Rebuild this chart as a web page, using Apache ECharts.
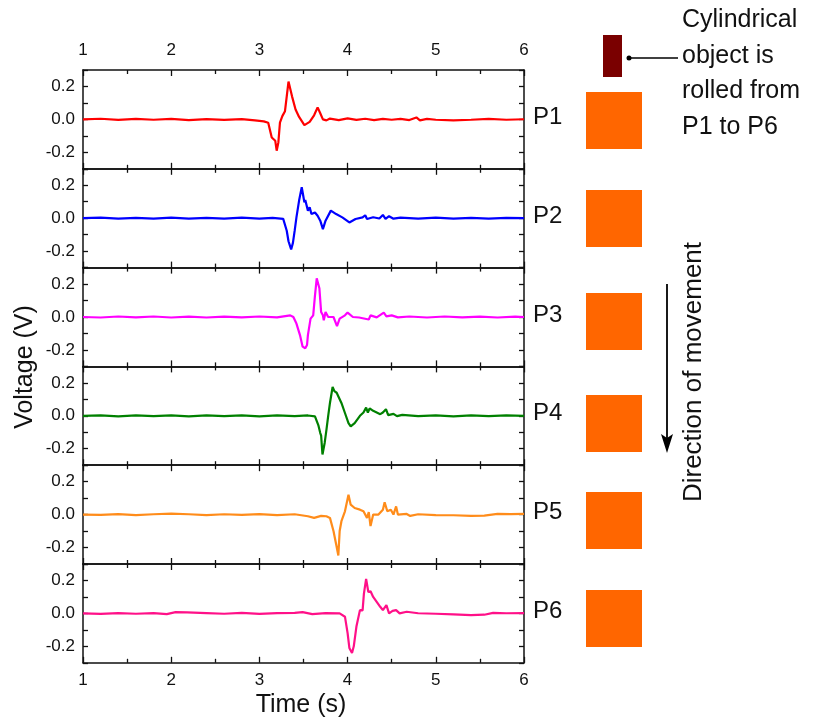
<!DOCTYPE html>
<html>
<head>
<meta charset="utf-8">
<style>
  html, body { margin: 0; padding: 0; background: #fff; }
  #chart { width: 816px; height: 723px; }
</style>
<script src="https://cdn.jsdelivr.net/npm/echarts@6/dist/echarts.min.js"></script>
</head>
<body>
<div id="chart"></div>
<script>
// ── Sensor pad voltages, object rolled from P1 to P6 ──

const padNames = ['P1', 'P2', 'P3', 'P4', 'P5', 'P6'];
const padColors = ['#ff0000', '#0000ff', '#ff00ff', '#008000', '#ff8c1a', '#ff1088'];
const timeTicks = [1, 2, 3, 4, 5, 6];

// [time (s), voltage (V)]
const p1 = [[1, 0], [1.2, 0.004], [1.4, -0.003], [1.6, 0.003], [1.8, -0.002], [2.0, 0.003], [2.2, -0.004], [2.4, 0.002],
  [2.6, -0.003], [2.8, 0.002], [2.95, -0.006], [3.05, -0.012], [3.1, -0.02], [3.14, -0.11], [3.16, -0.12], [3.18, -0.13],
  [3.196, -0.19], [3.215, -0.14], [3.233, -0.02], [3.245, -0.03], [3.26, 0.02], [3.29, 0.05], [3.33, 0.23], [3.37, 0.14],
  [3.41, 0.06], [3.45, 0.015], [3.51, -0.035], [3.57, -0.015], [3.62, 0.025], [3.66, 0.073], [3.69, 0.037], [3.72, 0.0],
  [3.76, -0.006], [3.8, 0.005], [3.9, -0.004], [4.0, 0.006], [4.1, -0.003], [4.2, 0.004], [4.3, -0.004], [4.4, 0.003],
  [4.5, -0.002], [4.6, 0.003], [4.7, -0.004], [4.78, 0.012], [4.82, -0.006], [4.9, 0.003], [5.0, -0.002], [5.2, -0.006],
  [5.4, -0.002], [5.6, 0.003], [5.8, -0.002], [6, 0.001]];
const p2 = [[1, 0], [1.2, 0.003], [1.4, -0.003], [1.6, 0.002], [1.8, -0.002], [2.0, 0.003], [2.2, -0.003], [2.4, 0.002],
  [2.6, -0.002], [2.8, 0.003], [3.0, -0.003], [3.15, 0.002], [3.27, -0.004], [3.31, -0.076], [3.33, -0.14], [3.347, -0.168],
  [3.36, -0.19], [3.38, -0.15], [3.40, -0.076], [3.42, 0.005], [3.45, 0.107], [3.48, 0.188], [3.50, 0.127], [3.51, 0.096],
  [3.52, 0.11], [3.55, 0.046], [3.57, 0.066], [3.59, 0.025], [3.63, 0.035], [3.66, 0.015], [3.69, -0.015], [3.72, -0.066],
  [3.75, -0.015], [3.81, 0.046], [3.87, 0.025], [3.94, 0.005], [4.02, -0.026], [4.09, -0.005], [4.17, 0.005], [4.20, 0.018],
  [4.22, -0.005], [4.29, 0.006], [4.36, -0.002], [4.40, 0.02], [4.43, -0.004], [4.47, 0.012], [4.52, -0.003], [4.6, 0.004],
  [4.8, -0.003], [5.0, 0.003], [5.2, -0.003], [5.4, 0.002], [5.6, -0.003], [5.8, 0.002], [6, 0]];
const p3 = [[1, 0], [1.2, -0.003], [1.4, 0.003], [1.6, -0.002], [1.8, 0.003], [2.0, -0.003], [2.2, 0.002], [2.4, -0.003],
  [2.6, 0.002], [2.8, -0.002], [3.0, 0.003], [3.2, -0.002], [3.35, 0.01], [3.385, 0.0], [3.42, -0.04], [3.46, -0.11],
  [3.49, -0.18], [3.52, -0.19], [3.54, -0.17], [3.55, -0.11], [3.58, -0.01], [3.61, 0.01], [3.63, 0.13], [3.65, 0.235],
  [3.68, 0.175], [3.70, 0.03], [3.72, 0.01], [3.73, -0.02], [3.75, 0.03], [3.78, 0.0], [3.84, 0.0], [3.88, -0.055],
  [3.91, -0.01], [3.97, 0.01], [4.0, 0.027], [4.06, 0.0], [4.13, -0.003], [4.24, -0.015], [4.26, 0.01], [4.33, -0.002],
  [4.41, 0.027], [4.44, 0.004], [4.5, 0.01], [4.57, -0.002], [4.7, 0.003], [4.9, -0.003], [5.1, 0.003], [5.3, -0.002],
  [5.5, 0.002], [5.7, -0.003], [5.9, 0.002], [6, 0]];
const p4 = [[1, 0], [1.2, 0.003], [1.4, -0.003], [1.6, 0.002], [1.8, -0.002], [2.0, 0.003], [2.2, -0.003], [2.4, 0.003],
  [2.6, -0.002], [2.8, 0.002], [3.0, -0.003], [3.2, 0.003], [3.4, -0.002], [3.55, 0.002], [3.63, -0.003], [3.67, -0.06],
  [3.69, -0.105], [3.70, -0.12], [3.715, -0.235], [3.74, -0.165], [3.76, -0.085], [3.78, 0.0], [3.80, 0.078], [3.83, 0.175],
  [3.85, 0.15], [3.876, 0.14], [3.93, 0.078], [3.97, 0.017], [4.01, -0.044], [4.035, -0.064], [4.08, -0.044], [4.14, 0.0],
  [4.18, 0.02], [4.21, 0.05], [4.23, 0.02], [4.25, 0.045], [4.29, 0.03], [4.37, 0.01], [4.40, 0.02], [4.435, 0.04],
  [4.46, 0.004], [4.52, 0.012], [4.56, -0.002], [4.62, 0.006], [4.8, -0.002], [5.0, 0.003], [5.2, -0.003], [5.4, 0.002],
  [5.6, -0.002], [5.8, 0.003], [6, 0]];
const p5 = [[1, 0], [1.2, -0.002], [1.4, 0.003], [1.6, -0.003], [1.8, 0.002], [2.0, 0.006], [2.2, 0.002], [2.4, -0.003],
  [2.6, 0.002], [2.8, -0.002], [3.0, 0.003], [3.2, -0.003], [3.4, 0.002], [3.55, -0.01], [3.62, -0.02], [3.7, -0.008],
  [3.76, -0.01], [3.80, -0.02], [3.84, -0.1], [3.87, -0.18], [3.895, -0.248], [3.91, -0.1], [3.93, -0.04], [3.97, 0.02],
  [4.01, 0.12], [4.035, 0.06], [4.08, 0.04], [4.14, 0.03], [4.18, 0.02], [4.22, -0.02], [4.24, 0.015], [4.26, -0.07],
  [4.29, 0.0], [4.35, 0.0], [4.40, 0.03], [4.42, 0.075], [4.45, 0.02], [4.49, 0.03], [4.52, 0.0], [4.55, 0.05],
  [4.57, 0.0], [4.67, 0.004], [4.71, -0.008], [4.8, 0.002], [5.0, -0.003], [5.2, -0.004], [5.4, -0.008], [5.55, -0.006],
  [5.7, 0.004], [5.85, 0.003], [6, 0.004]];
const p6 = [[1, 0], [1.2, -0.003], [1.4, 0.002], [1.6, -0.002], [1.8, 0.002], [1.95, -0.004], [2.05, 0.008], [2.18, 0.006],
  [2.4, 0.002], [2.6, -0.002], [2.8, 0.003], [3.0, -0.003], [3.2, 0.002], [3.4, 0.003], [3.49, 0.008], [3.6, -0.004],
  [3.75, 0.002], [3.91, 0.0], [3.97, -0.02], [4.0, -0.12], [4.02, -0.21], [4.05, -0.24], [4.07, -0.2], [4.10, -0.08],
  [4.14, 0.02], [4.17, 0.018], [4.185, 0.12], [4.21, 0.21], [4.235, 0.13], [4.25, 0.12], [4.26, 0.135], [4.29, 0.10],
  [4.33, 0.07], [4.37, 0.04], [4.40, 0.02], [4.44, 0.05], [4.47, 0.0], [4.51, 0.015], [4.55, 0.02], [4.59, 0.0],
  [4.67, 0.01], [4.8, 0.001], [5.0, -0.002], [5.2, -0.006], [5.4, -0.01], [5.55, -0.008], [5.65, 0.003], [5.8, 0.001], [6, 0.002]];
const padSeries = [p1, p2, p3, p4, p5, p6];

const GL = 83, GW = 441, GT = 70, GH = 98.8;
const axisColor = '#111';
const textColor = '#111';
const font = 'Liberation Sans, Arial, sans-serif';

function xAxisFor(i, pos) {
  const showLbl = (pos === 'top' && i === 0) || (pos === 'bottom' && i === 5);
  return {
    gridIndex: i, type: 'value', position: pos, min: 1, max: 6, interval: 1,
    axisLine: { show: true, onZero: false, lineStyle: { color: axisColor, width: 1.5 } },
    axisTick: { show: true, inside: true, length: 6, lineStyle: { color: axisColor, width: 1.3 } },
    minorTick: { show: true, splitNumber: 2, length: 4, lineStyle: { color: axisColor, width: 1.3 } },
    axisLabel: { show: showLbl, color: textColor, fontSize: 17, fontFamily: font, margin: pos === 'top' ? 11 : 9 },
    splitLine: { show: false },
  };
}

function yAxisFor(i, pos) {
  return {
    gridIndex: i, type: 'value', position: pos, min: -0.3, max: 0.3, interval: 0.1,
    axisLine: { show: true, onZero: false, lineStyle: { color: axisColor, width: 1.5 } },
    axisTick: { show: true, inside: true, length: 5, lineStyle: { color: axisColor, width: 1.3 } },
    axisLabel: {
      show: pos === 'left', color: textColor, fontSize: 17, fontFamily: font, margin: 8,
      formatter: v => {
        const k = Math.round(v * 10);
        if (Math.abs(k) % 2 !== 0 || Math.abs(k) > 2) return '';
        return (k / 10).toFixed(1);
      },
    },
    splitLine: { show: false },
  };
}

const grids = [], xAxes = [], yAxes = [], series = [];
padSeries.forEach((d, i) => {
  grids.push({ left: GL, width: GW, top: GT + i * GH, height: GH });
  xAxes.push(xAxisFor(i, 'bottom'), xAxisFor(i, 'top'));
  yAxes.push(yAxisFor(i, 'left'), yAxisFor(i, 'right'));
  series.push({
    type: 'line', xAxisIndex: i * 2, yAxisIndex: i * 2, data: d,
    showSymbol: false, smooth: false, silent: true,
    lineStyle: { color: padColors[i], width: 2.2 },
  });
});

// right-hand side: pad labels, orange pads, object and arrow
const padTops = [92, 190, 293, 395, 492, 590];
const graphics = [];
padNames.forEach((n, i) => {
  graphics.push({
    type: 'text', left: 533, top: GT + i * GH + GH / 2 - 14,
    style: { text: n, fontSize: 24, fontFamily: font, fill: textColor },
  });
  graphics.push({
    type: 'rect', shape: { x: 586, y: padTops[i], width: 56, height: 57 },
    style: { fill: '#ff6600' },
  });
});
graphics.push(
  { type: 'rect', shape: { x: 603, y: 35, width: 19, height: 42 }, style: { fill: '#7a0000' } },
  { type: 'circle', shape: { cx: 629, cy: 58, r: 2.5 }, style: { fill: '#000' } },
  { type: 'line', shape: { x1: 629, y1: 58, x2: 678, y2: 58 }, style: { stroke: '#000', lineWidth: 1.5 } },
  { type: 'line', shape: { x1: 667, y1: 284, x2: 667, y2: 440 }, style: { stroke: '#000', lineWidth: 1.8 } },
  { type: 'polygon', shape: { points: [[667, 453], [661, 434], [667, 438], [673, 434]] }, style: { fill: '#000' } }
);
['Cylindrical', 'object is', 'rolled from', 'P1 to P6'].forEach((t, i) => {
  graphics.push({
    type: 'text', left: 682, top: 8 + i * 35.5,
    style: { text: t, fontSize: 25, fontFamily: font, fill: textColor },
  });
});
graphics.push(
  {
    type: 'text', x: 694, y: 372, rotation: Math.PI / 2,
    style: { text: 'Direction of movement', fontSize: 26, fontFamily: font, fill: textColor, align: 'center', verticalAlign: 'middle' },
  },
  {
    type: 'text', x: 25, y: 367, rotation: Math.PI / 2,
    style: { text: 'Voltage (V)', fontSize: 25, fontFamily: font, fill: textColor, align: 'center', verticalAlign: 'middle' },
  },
  {
    type: 'text', x: 301, y: 705,
    style: { text: 'Time (s)', fontSize: 25, fontFamily: font, fill: textColor, align: 'center', verticalAlign: 'middle' },
  }
);

const chart = echarts.init(document.getElementById('chart'), null, { renderer: 'canvas' });
chart.setOption({
  backgroundColor: '#fff',
  animation: false,
  grid: grids,
  xAxis: xAxes,
  yAxis: yAxes,
  series: series,
  graphic: graphics,
});
</script>
</body>
</html>
